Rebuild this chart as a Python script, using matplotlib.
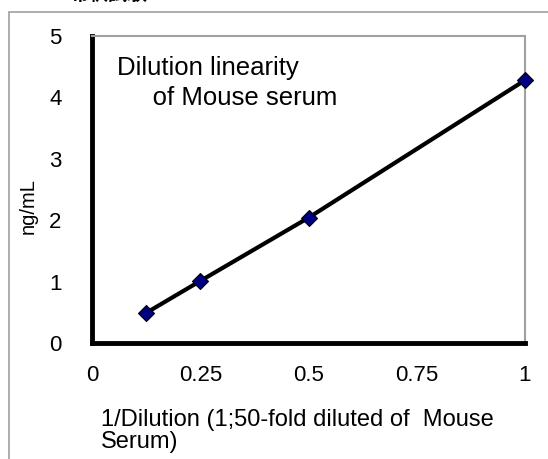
import matplotlib.pyplot as plt
from matplotlib.patches import Rectangle

plt.rcParams['font.family'] = ['Liberation Sans', 'Noto Sans CJK JP', 'DejaVu Sans']

# data
inv_dilution = [0.125, 0.25, 0.5, 1.0]
conc_ng_ml = [0.49, 1.01, 2.04, 4.28]
x_ticks = [0, 0.25, 0.5, 0.75, 1]
x_tick_labels = ["0", "0.25", "0.5", "0.75", "1"]
y_ticks = [0, 1, 2, 3, 4, 5]

W, H = 548, 459
fig = plt.figure(figsize=(W / 100, H / 100), dpi=100)

# outer gray frame (partly off the page)
fig.patches.append(Rectangle((9 / W, -0.1), 1.2, (H - 12) / H + 0.1,
                             transform=fig.transFigure, fill=False,
                             edgecolor="#a0a0a0", linewidth=1.2))

# heading, cut off at the top like in the original
fig.text(5 / W, 1 + 6 / H, "C", fontsize=14, fontweight="bold", va="center")
fig.text(70 / W, 1 + 6 / H, "希釈試験", fontsize=14, fontweight="bold", va="center")

ax = fig.add_axes([92 / W, 1 - 343 / H, (525 - 92) / W, (343 - 36) / H])
ax.plot(inv_dilution, conc_ng_ml, color="black", linewidth=3, zorder=2)
ax.plot(inv_dilution, conc_ng_ml, linestyle="none", marker="D", markersize=8.5,
        markerfacecolor="#000080", markeredgecolor="black", markeredgewidth=0.8,
        zorder=3, clip_on=False)

ax.set_xlim(0, 1)
ax.set_ylim(0, 5)
ax.set_xticks(x_ticks)
ax.set_xticklabels(x_tick_labels)
ax.set_yticks(y_ticks)
ax.tick_params(axis="both", length=0, labelsize=16)
ax.tick_params(axis="y", pad=22)
ax.tick_params(axis="x", pad=16)

for side in ["left", "bottom"]:
    ax.spines[side].set_linewidth(3.5)
    ax.spines[side].set_color("black")
for side in ["top", "right"]:
    ax.spines[side].set_linewidth(1.5)
    ax.spines[side].set_color("#a0a0a0")

ax.text(0.058, 0.935, "Dilution linearity\n     of Mouse serum", transform=ax.transAxes,
        fontsize=18.5, va="top", ha="left", linespacing=1.3)

fig.text(28 / W, 1 - 206 / H, "ng/mL", rotation=90, fontsize=14.5,
         ha="center", va="center")
fig.text(101 / W, 1 - 431 / H, "1/Dilution (1;50-fold diluted of  Mouse\nSerum)",
         fontsize=17, ha="left", va="center", linespacing=1.05)

fig.savefig("out.png", dpi=100)
